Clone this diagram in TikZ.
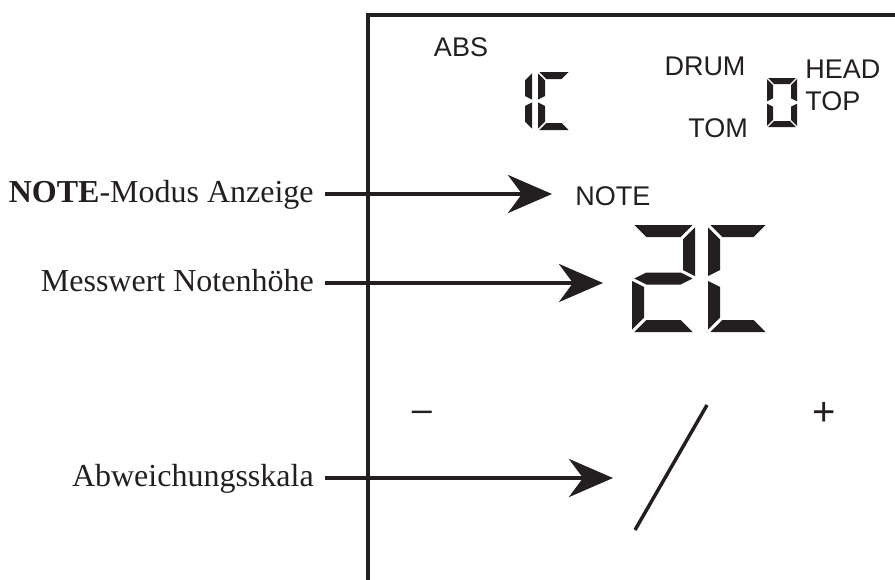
\documentclass[tikz,border=0pt]{standalone}
\usepackage{fontspec}
\setmainfont{Liberation Serif}
\newfontfamily\arialf{Liberation Sans}
\usetikzlibrary{arrows.meta}
\definecolor{ink}{HTML}{231F20}
% seven-segment digit: x, y (top-left), width, height, thickness, segment list
\newcommand{\sevseg}[6]{%
  \begin{scope}[shift={(#1,#2)}]
    \def\dgW{#3}\def\dgH{#4}\def\dgT{#5}\pgfmathsetmacro\dgG{#5*0.2}%
    \foreach \s in {#6}{\csname dseg\s\endcsname}%
  \end{scope}}
\newcommand{\dsega}{\fill[segfill] (\dgG,0) -- ({\dgW-\dgG},0) -- ({\dgW-\dgG-\dgT},\dgT) -- ({\dgG+\dgT},\dgT) -- cycle;}
\newcommand{\dsegd}{\fill[segfill] (\dgG,\dgH) -- ({\dgW-\dgG},\dgH) -- ({\dgW-\dgG-\dgT},{\dgH-\dgT}) -- ({\dgG+\dgT},{\dgH-\dgT}) -- cycle;}
\newcommand{\dsegg}{\fill[segfill] (\dgG,{\dgH/2}) -- ({\dgG+\dgT},{\dgH/2-\dgT/2}) -- ({\dgW-\dgG-\dgT},{\dgH/2-\dgT/2}) -- ({\dgW-\dgG},{\dgH/2}) -- ({\dgW-\dgG-\dgT},{\dgH/2+\dgT/2}) -- ({\dgG+\dgT},{\dgH/2+\dgT/2}) -- cycle;}
\newcommand{\dsegf}{\fill[segfill] (0,\dgG) -- (\dgT,{\dgG+\dgT}) -- (\dgT,{\dgH/2-\dgG-\dgT/2}) -- (0,{\dgH/2-\dgG}) -- cycle;}
\newcommand{\dsege}{\fill[segfill] (0,{\dgH/2+\dgG}) -- (\dgT,{\dgH/2+\dgG+\dgT/2}) -- (\dgT,{\dgH-\dgG-\dgT}) -- (0,{\dgH-\dgG}) -- cycle;}
\newcommand{\dsegb}{\fill[segfill] (\dgW,\dgG) -- ({\dgW-\dgT},{\dgG+\dgT}) -- ({\dgW-\dgT},{\dgH/2-\dgG-\dgT/2}) -- (\dgW,{\dgH/2-\dgG}) -- cycle;}
\newcommand{\dsegc}{\fill[segfill] (\dgW,{\dgH/2+\dgG}) -- ({\dgW-\dgT},{\dgH/2+\dgG+\dgT/2}) -- ({\dgW-\dgT},{\dgH-\dgG-\dgT}) -- (\dgW,{\dgH-\dgG}) -- cycle;}
\begin{document}
\begin{tikzpicture}[x=0.75pt,y=-0.75pt,
  lab/.style={font=\fontsize{24}{28}\selectfont, text=ink, inner sep=0pt, inner xsep=8.25pt, anchor=base east},
  lcd/.style={font=\arialf\fontsize{20.25}{24}\selectfont, text=ink, inner sep=0pt},
  sym/.style={font=\arialf\fontsize{27}{30}\selectfont, text=ink, inner sep=0pt},
  arr/.style={draw=ink, line width=3pt, -{Stealth[length=33pt,width=28.5pt,inset=10.5pt]}},
  frame/.style={draw=ink, line width=3pt},
  segfill/.style={fill=ink}]
\useasboundingbox (0,0) rectangle (895,579);
% display frame
\draw[frame] (368,600) -- (368,15) -- (910,15);
% LCD texts
\node[lcd, anchor=base] (abs) at (461,56) {ABS};
\node[lcd, anchor=base] (drum) at (705,75) {DRUM};
\node[lcd, anchor=base west] (head) at (805,78) {HEAD};
\node[lcd, anchor=base west] (top) at (805,110) {TOP};
\node[lcd, anchor=base] (tom) at (718,137) {TOM};
\node[lcd, anchor=base west] (note) at (575,205) {NOTE};
\node[sym] (minus) at (422,416) {–};
\node[sym, font=\arialf\fontsize{30}{32}\selectfont] (plus) at (824,414) {+};
% seven-segment digits
\sevseg{500}{72}{32}{58}{7}{b,c}
\sevseg{538}{72}{32}{58}{7}{a,f,e,d}
\sevseg{767}{78}{30}{49}{6}{a,b,c,d,e,f}
\sevseg{632}{225}{63}{107}{12}{a,b,g,e,d}
\sevseg{708}{225}{60}{107}{12}{a,f,e,d}
% deviation scale
\coordinate (s1) at (707,405);
\coordinate (s2) at (635,530);
\draw[ink, line width=2.6pt] (s1) -- (s2);
% callout labels
\node[lab] (lnote) at (325,202) {\textbf{NOTE}-Modus Anzeige};
\node[lab] (lmess) at (325,291) {Messwert Notenhöhe};
\node[lab] (labw) at (325,486) {Abweichungsskala};
\coordinate (tnote) at (552,194);
\coordinate (tmess) at (603,283);
\coordinate (tabw) at (613,478);
\draw[arr] (lnote.east |- tnote) -- (tnote);
\draw[arr] (lmess.east |- tmess) -- (tmess);
\draw[arr] (labw.east |- tabw) -- (tabw);
\end{tikzpicture}
\end{document}
